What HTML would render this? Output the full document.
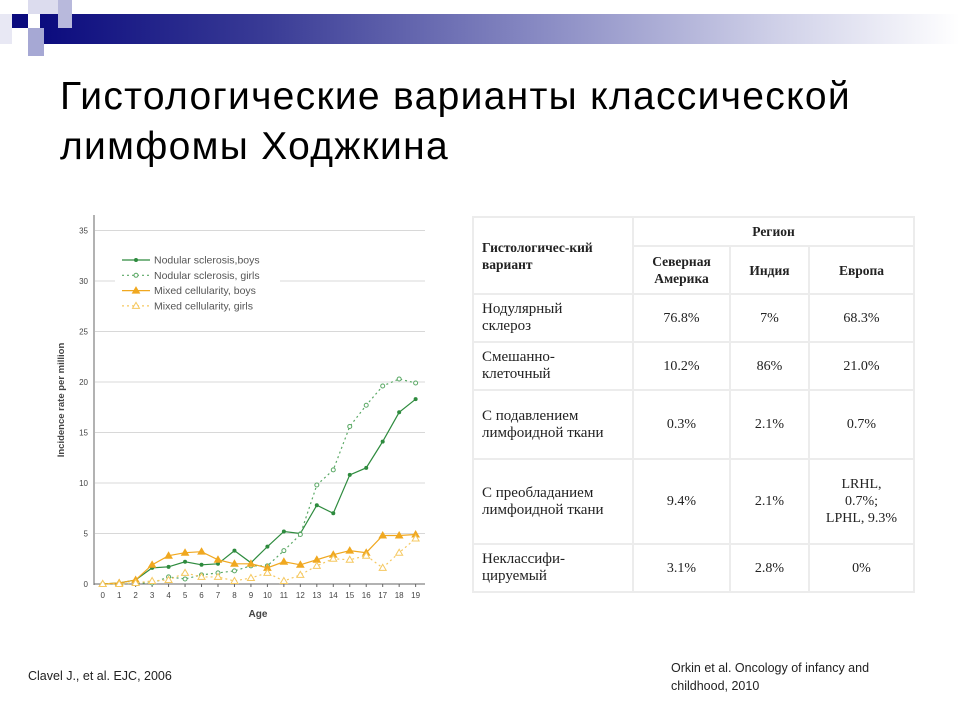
<!DOCTYPE html>
<html><head><meta charset="utf-8"><style>
body{margin:0;width:960px;height:720px;background:#fff;position:relative;overflow:hidden;font-family:"Liberation Sans",sans-serif}
.abs{position:absolute}
#title{left:60px;top:72px;font-size:39px;letter-spacing:1.3px;line-height:50px;color:#000;margin:0;font-weight:normal;white-space:nowrap}
table{position:absolute;left:472px;top:216px;width:441px;table-layout:fixed;border-collapse:collapse;font-family:"Liberation Serif",serif;font-size:14px;line-height:17px;color:#222}
td,th{border:2px solid #ececec;padding:0 6px;text-align:center}
td.l,th.l{text-align:left;padding-left:8px;white-space:nowrap}
td.l{font-size:15px}
th{font-weight:bold;font-size:13.5px}
.foot{font-size:12.5px;color:#222;line-height:18px}
</style></head><body>
<div class="abs" style="left:40px;top:14px;width:920px;height:30px;background:linear-gradient(to right,#0b0b7e 0%,#3a3c96 25%,#8a8cc4 55%,#cfd0e8 80%,#fff 100%)"></div>
<div class="abs" style="left:12px;top:14px;width:16px;height:14px;background:#0b0b7e"></div>
<div class="abs" style="left:28px;top:0;width:30px;height:14px;background:#dcdcee"></div>
<div class="abs" style="left:58px;top:0;width:14px;height:28px;background:#b8b9dc"></div>
<div class="abs" style="left:28px;top:28px;width:16px;height:28px;background:#a6a8d4"></div>
<div class="abs" style="left:0;top:14px;width:12px;height:30px;background:#e8e8f4"></div>
<h1 id="title" class="abs">Гистологические варианты классической<br>лимфомы Ходжкина</h1>

<svg class="abs" style="left:0;top:0" width="960" height="720" id="chart"></svg>

<table>
<colgroup><col style="width:160px"><col style="width:97px"><col style="width:79px"><col style="width:105px"></colgroup>
<tr style="height:29px"><th class="l" rowspan="2">Гистологичес-кий<br>вариант</th><th colspan="3">Регион</th></tr>
<tr style="height:48px"><th>Северная Америка</th><th>Индия</th><th>Европа</th></tr>
<tr style="height:48px"><td class="l">Нодулярный<br>склероз</td><td>76.8%</td><td>7%</td><td>68.3%</td></tr>
<tr style="height:48px"><td class="l">Смешанно-<br>клеточный</td><td>10.2%</td><td>86%</td><td>21.0%</td></tr>
<tr style="height:69px"><td class="l">С подавлением<br>лимфоидной ткани</td><td>0.3%</td><td>2.1%</td><td>0.7%</td></tr>
<tr style="height:85px"><td class="l">С преобладанием<br>лимфоидной ткани</td><td>9.4%</td><td>2.1%</td><td>LRHL,<br>0.7%;<br>LPHL, 9.3%</td></tr>
<tr style="height:48px"><td class="l">Неклассифи-<br>цируемый</td><td>3.1%</td><td>2.8%</td><td>0%</td></tr>
</table>

<div class="abs foot" style="left:28px;top:667px">Clavel J., et al. EJC, 2006</div>
<div class="abs foot" style="left:671px;top:659px">Orkin et al. Oncology of infancy and<br>childhood, 2010</div>

<script>
const ages=[0,1,2,3,4,5,6,7,8,9,10,11,12,13,14,15,16,17,18,19];
const yTicks=[0,5,10,15,20,25,30,35];
const nsBoys=[0,0.1,0.4,1.6,1.7,2.2,1.9,2.0,3.3,2.1,3.7,5.2,5.0,7.8,7.0,10.8,11.5,14.1,17.0,18.3];
const nsGirls=[0,0,0.1,0.1,0.7,0.5,0.9,1.1,1.3,1.8,1.8,3.3,4.9,9.8,11.3,15.6,17.7,19.6,20.3,19.9];
const mcBoys=[0,0.1,0.4,1.9,2.8,3.1,3.2,2.4,2.0,2.0,1.6,2.2,1.9,2.4,2.9,3.3,3.1,4.8,4.8,4.9];
const mcGirls=[0,0,0.1,0.3,0.4,1.1,0.7,0.7,0.3,0.6,1.1,0.3,0.9,1.8,2.5,2.4,2.8,1.6,3.1,4.5];
const seriesNames=["Nodular sclerosis,boys","Nodular sclerosis, girls","Mixed cellularity, boys","Mixed cellularity, girls"];

const svg=document.getElementById('chart');
const NS='http://www.w3.org/2000/svg';
const X=a=>102.7+a*16.47;
const Y=v=>584-v*10.1;
function mk(t,at,p){const e=document.createElementNS(NS,t);for(const k in at)e.setAttribute(k,at[k]);(p||svg).appendChild(e);return e;}
yTicks.forEach(t=>{
  if(t>0){const g=mk('line',{x1:95,x2:425,y1:Y(t),y2:Y(t),stroke:'#d8d8d8','stroke-width':1});
  
  }
  const l=mk('text',{x:88,y:Y(t)+3,'text-anchor':'end','font-size':8,fill:'#444','font-family':'Liberation Sans'});
  l.textContent=t;
  
  
});
ages.forEach(a=>{
  const l=mk('text',{x:X(a),y:598,'text-anchor':'middle','font-size':8,fill:'#444','font-family':'Liberation Sans'});
  l.textContent=a;
  
  
  mk('line',{x1:X(a),x2:X(a),y1:584,y2:587,stroke:'#666'});
});
let ax=mk('line',{x1:94,x2:94,y1:215,y2:585,stroke:'#666'});


let ax2=mk('line',{x1:94,x2:425,y1:584,y2:584,stroke:'#666'});


let yt=mk('text',{transform:'translate(64,400) rotate(-90)','text-anchor':'middle','font-size':9.5,'font-weight':'bold',fill:'#444','font-family':'Liberation Sans'});
yt.textContent='Incidence rate per million';


let xt=mk('text',{x:258,y:617,'text-anchor':'middle','font-size':10,'font-weight':'bold',fill:'#444','font-family':'Liberation Sans'});
xt.textContent='Age';


mk('rect',{x:115,y:250,width:165,height:62,fill:'#fff'});
const styles=[
 {c:'#2e8b3e',dash:'',m:'dot'},
 {c:'#5aa865',dash:'2,3',m:'circle'},
 {c:'#f0a820',dash:'',m:'tri'},
 {c:'#f5c860',dash:'2,3',m:'otri'}];
function marker(s,x,y,p){
  if(s.m=='dot')return mk('circle',{cx:x,cy:y,r:2,fill:s.c},p);
  if(s.m=='circle')return mk('circle',{cx:x,cy:y,r:2,fill:'#fff',stroke:s.c,'stroke-width':1},p);
  return mk('path',{d:`M${x},${y-3.5}L${x+3.5},${y+2.5}L${x-3.5},${y+2.5}Z`,fill:s.m=='tri'?s.c:'#fff',stroke:s.c,'stroke-width':1},p);
}
[nsBoys,nsGirls,mcBoys,mcGirls].forEach((d,i)=>{
  const s=styles[i];
  const g=mk('g',{});
  
  
  mk('polyline',{points:d.map((v,j)=>X(ages[j])+','+Y(v)).join(' '),fill:'none',stroke:s.c,'stroke-width':1.2,'stroke-dasharray':s.dash},g);
  d.forEach((v,j)=>marker(s,X(ages[j]),Y(v),g));
  const ly=260+i*15.3;
  const le=mk('g',{});
  
  
  mk('line',{x1:122,x2:150,y1:ly,y2:ly,stroke:s.c,'stroke-width':1.2,'stroke-dasharray':s.dash},le);
  marker(s,136,ly,le);
  const t=mk('text',{x:154,y:ly+3.5,'font-size':10.5,fill:'#555','font-family':'Liberation Sans'},le);
  t.textContent=seriesNames[i];
});
</script>
</body></html>
